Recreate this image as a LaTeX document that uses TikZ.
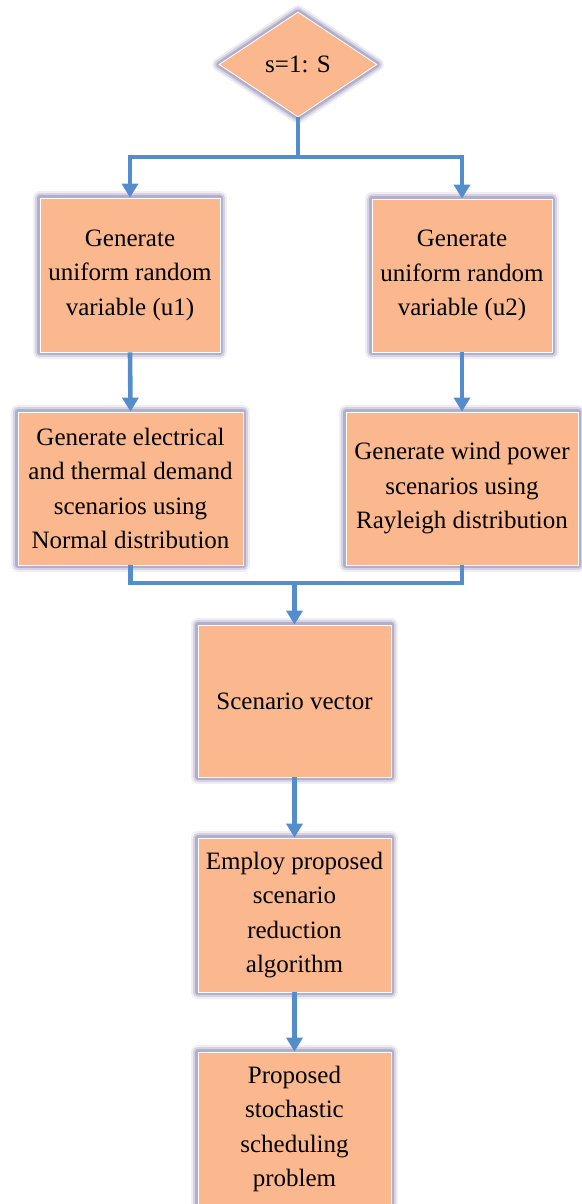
\documentclass[tikz,border=0pt]{standalone}
\usepackage{fontspec}
\setmainfont{Liberation Serif}
\usetikzlibrary{shapes.geometric,arrows.meta}
\definecolor{peach}{HTML}{FBB78E}
\definecolor{flowblue}{HTML}{548DCC}
\definecolor{glowc}{HTML}{9890B8}
\tikzset{
  glow/.style={
    preaction={draw=glowc, line width=14pt, opacity=0.15, line join=round},
    preaction={draw=glowc, line width=10pt, opacity=0.3, line join=round},
    preaction={draw=glowc, line width=6pt, opacity=0.55, line join=round}},
  box/.style={glow, rectangle, fill=peach, draw=white, line width=0.8pt,
    inner sep=0pt, align=center, font={\fontsize{25}{34.5}\selectfont}},
  dec/.style={glow, diamond, fill=peach, draw=white, line width=0.8pt,
    inner sep=0pt, aspect=1.5, minimum width=158pt, minimum height=105pt,
    font={\fontsize{25}{34.5}\selectfont}},
  flow/.style={draw=flowblue, line width=4.6pt},
  arr/.style={flow, -{Triangle[width=16pt,length=14pt]}}
}
\begin{document}
\begin{tikzpicture}[x=1pt,y=-1pt]
\useasboundingbox (0,0) rectangle (581,1204);
\node[dec] (d) at (298,64.5) {s=1: S};
\node[box, minimum width=180pt, minimum height=154pt] (b1) at (130,275) {Generate\\uniform random\\variable (u1)};
\node[box, minimum width=180pt, minimum height=153pt] (b2) at (462,275.5) {Generate\\uniform random\\variable (u2)};
\node[box, minimum width=225pt, minimum height=153pt] (b3) at (130.5,488.5) {Generate electrical\\and thermal demand\\scenarios using\\Normal distribution};
\node[box, minimum width=232pt, minimum height=153pt] (b4) at (462,488.5) {Generate wind power\\scenarios using\\Rayleigh distribution};
\node[box, minimum width=193pt, minimum height=152pt] (b5) at (294.5,701) {Scenario vector};
\node[box, minimum width=193pt, minimum height=154pt] (b6) at (294.5,915) {Employ proposed\\scenario\\reduction\\algorithm};
\node[box, minimum width=193pt, minimum height=154pt] (b7) at (294.5,1129) {Proposed\\stochastic\\scheduling\\problem};
\coordinate (split) at (298,157);
\coordinate (merge) at (294.5,583);
\draw[flow] (d.south) -- (split);
\draw[arr] (split) -| (b1.north);
\draw[arr] (split) -| (b2.north);
\draw[arr] (b1.south) -- (b3.north);
\draw[arr] (b2.south) -- (b4.north);
\draw[flow] (b3.south) |- (merge);
\draw[flow] (b4.south) |- (merge);
\draw[arr] (merge) -- (b5.north);
\draw[arr] (b5.south) -- (b6.north);
\draw[arr] (b6.south) -- (b7.north);
\end{tikzpicture}
\end{document}
